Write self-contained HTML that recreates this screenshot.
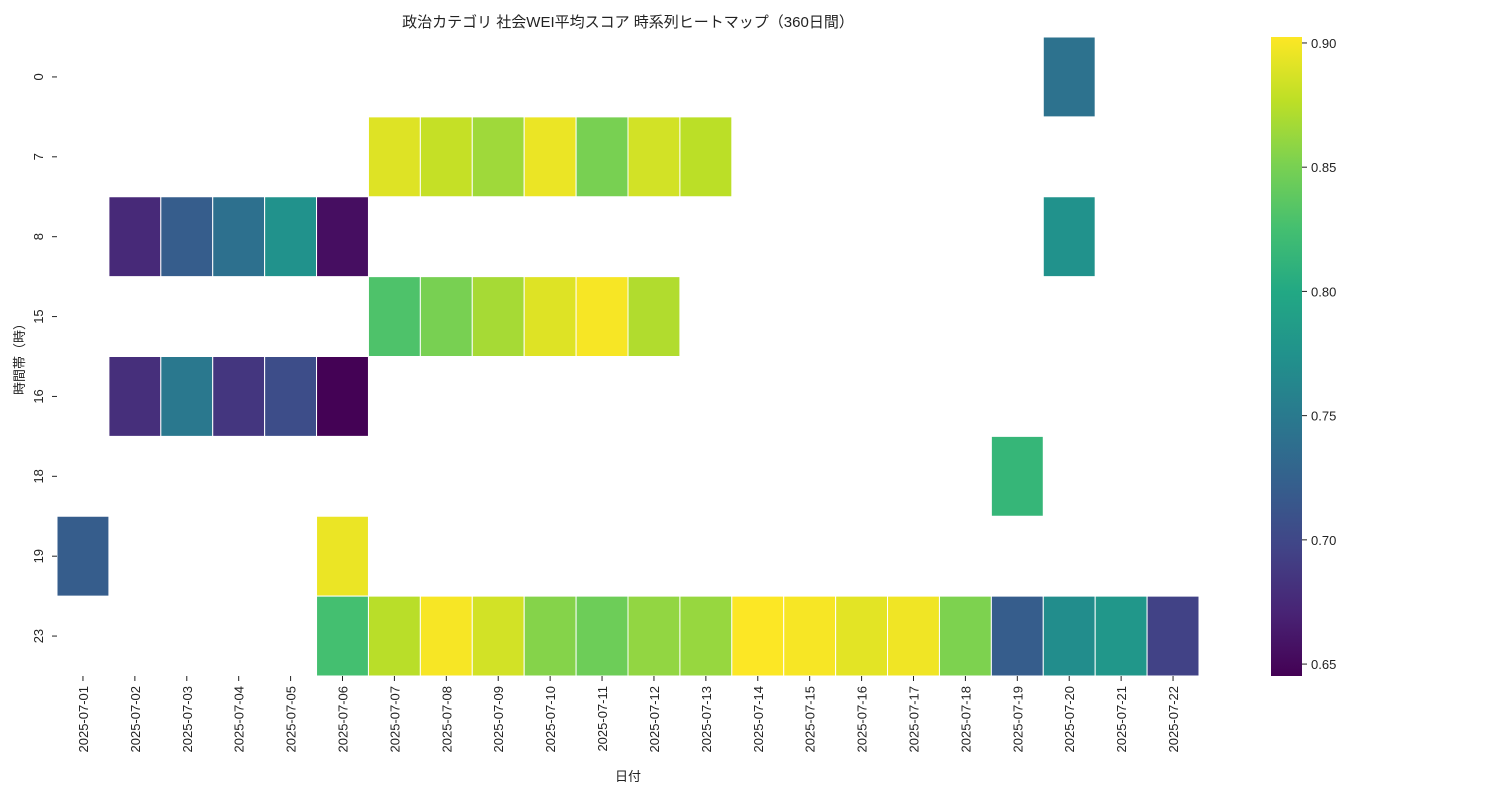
<!DOCTYPE html>
<html><head><meta charset="utf-8"><style>
body{margin:0;background:#fff;}
svg text{font-family:"Liberation Sans","Noto Sans CJK JP",sans-serif;fill:#222;}
</style></head><body>
<svg id="c" width="1500" height="800"></svg>
<script>
const dates=["2025-07-01","2025-07-02","2025-07-03","2025-07-04","2025-07-05","2025-07-06","2025-07-07","2025-07-08","2025-07-09","2025-07-10","2025-07-11","2025-07-12","2025-07-13","2025-07-14","2025-07-15","2025-07-16","2025-07-17","2025-07-18","2025-07-19","2025-07-20","2025-07-21","2025-07-22"];
const hours=["0","7","8","15","16","18","19","23"];
const cells=[
["0","2025-07-20",0.742],
["7","2025-07-07",0.89],["7","2025-07-08",0.88],["7","2025-07-09",0.865],["7","2025-07-10",0.895],["7","2025-07-11",0.85],["7","2025-07-12",0.885],["7","2025-07-13",0.876],
["8","2025-07-02",0.675],["8","2025-07-03",0.72],["8","2025-07-04",0.74],["8","2025-07-05",0.775],["8","2025-07-06",0.655],["8","2025-07-20",0.775],
["15","2025-07-07",0.83],["15","2025-07-08",0.85],["15","2025-07-09",0.868],["15","2025-07-10",0.89],["15","2025-07-11",0.9],["15","2025-07-12",0.872],
["16","2025-07-02",0.68],["16","2025-07-03",0.748],["16","2025-07-04",0.685],["16","2025-07-05",0.705],["16","2025-07-06",0.646],
["18","2025-07-19",0.815],
["19","2025-07-01",0.72],["19","2025-07-06",0.895],
["23","2025-07-06",0.825],["23","2025-07-07",0.875],["23","2025-07-08",0.9],["23","2025-07-09",0.885],["23","2025-07-10",0.855],["23","2025-07-11",0.845],["23","2025-07-12",0.86],["23","2025-07-13",0.862],["23","2025-07-14",0.902],["23","2025-07-15",0.9],["23","2025-07-16",0.892],["23","2025-07-17",0.897],["23","2025-07-18",0.852],["23","2025-07-19",0.72],["23","2025-07-20",0.77],["23","2025-07-21",0.78],["23","2025-07-22",0.695]
];
const cbTicks=[0.65,0.70,0.75,0.80,0.85,0.90];
const vmin=0.6452,vmax=0.9024;
const vir=["#440154","#482475","#414487","#355f8d","#2a788e","#21918c","#22a884","#44bf70","#7ad151","#bddf26","#fde725"];
function hex(h){return [1,3,5].map(i=>parseInt(h.substr(i,2),16));}
function color(v){let t=Math.max(0,Math.min(1,(v-vmin)/(vmax-vmin)))*10;let i=Math.min(9,Math.floor(t)),f=t-i;const a=hex(vir[i]),b=hex(vir[i+1]);return `rgb(${a.map((x,k)=>Math.round(x+(b[k]-x)*f)).join(",")})`;}
const X0=57,X1=1199,Y0=37,Y1=676;
const cw=(X1-X0)/dates.length,ch=(Y1-Y0)/hours.length;
const xs=d=>X0+dates.indexOf(d)*cw, ys=h=>Y0+hours.indexOf(h)*ch;
const svg=document.getElementById('c');const NS="http://www.w3.org/2000/svg";
function el(t,a,txt){const e=document.createElementNS(NS,t);for(const k in a)e.setAttribute(k,a[k]);if(txt!=null)e.textContent=txt;svg.appendChild(e);return e;}
cells.forEach(c=>{const r=el('rect',{x:xs(c[1]),y:ys(c[0]),width:cw,height:ch,fill:color(c[2]),stroke:"#fff","stroke-width":1});

});
dates.forEach((d,i)=>{const x=X0+(i+0.5)*cw;el('line',{x1:x,x2:x,y1:676,y2:681,stroke:"#222"});
const t=el('text',{x:0,y:0,transform:`translate(${x+5},686) rotate(-90)`,"text-anchor":"end","font-size":13},d);

});
hours.forEach((h,i)=>{const y=Y0+(i+0.5)*ch;el('line',{x1:52,x2:57,y1:y,y2:y,stroke:"#222"});
const t=el('text',{x:0,y:0,transform:`translate(43,${y}) rotate(-90)`,"text-anchor":"middle","font-size":13},h);

});
// colorbar
const CB0=1271,CB1=1302;
const defs=el('defs',{});const g=document.createElementNS(NS,'linearGradient');g.setAttribute('id','cg');g.setAttribute('x1',0);g.setAttribute('x2',0);g.setAttribute('y1',1);g.setAttribute('y2',0);defs.appendChild(g);
vir.forEach((c,i)=>{const s=document.createElementNS(NS,'stop');s.setAttribute('offset',i/10);s.setAttribute('stop-color',c);g.appendChild(s);});
const cb=el('rect',{x:CB0,y:Y0,width:CB1-CB0,height:Y1-Y0,fill:"url(#cg)"});


const cy=v=>Y1-(v-vmin)/(vmax-vmin)*(Y1-Y0);
cbTicks.forEach(v=>{const y=cy(v);el('line',{x1:CB1,x2:CB1+5,y1:y,y2:y,stroke:"#222"});
const t=el('text',{x:CB1+9,y:y+5,"font-size":13},v.toFixed(2));

});
const ti=el('text',{x:628,y:27,"text-anchor":"middle","font-size":15},"政治カテゴリ 社会WEI平均スコア 時系列ヒートマップ（360日間）");


const xl=el('text',{x:628,y:781,"text-anchor":"middle","font-size":13},"日付");


const yl=el('text',{x:0,y:0,transform:"translate(24,356) rotate(-90)","text-anchor":"middle","font-size":13},"時間帯（時）");


</script></body></html>
